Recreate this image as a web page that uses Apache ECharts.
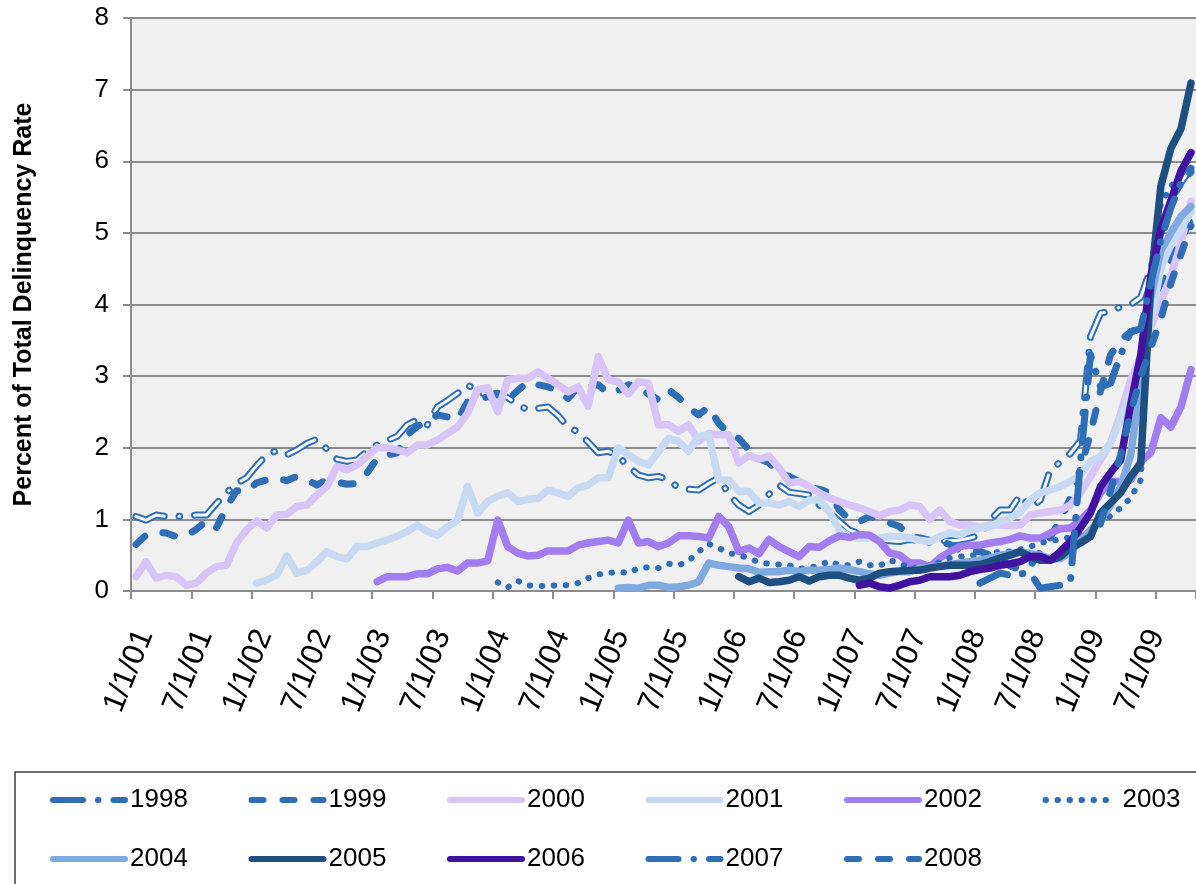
<!DOCTYPE html>
<html lang="en">
<head>
<meta charset="UTF-8">
<title>Percent of Total Delinquency Rate</title>
<script src="https://cdn.jsdelivr.net/npm/echarts@6.0.0/dist/echarts.min.js"></script>
<style>
  html, body { margin: 0; padding: 0; background: #fff; }
  #main { width: 1196px; height: 884px; }
</style>
</head>
<body>
<div id="main"></div>
<script>
// monthly points, Jan 2001 = month 0 ... Oct 2009 = month 105
var tickLabels = ['1/1/01', '7/1/01', '1/1/02', '7/1/02', '1/1/03', '7/1/03', '1/1/04', '7/1/04', '1/1/05',
    '7/1/05', '1/1/06', '7/1/06', '1/1/07', '7/1/07', '1/1/08', '7/1/08', '1/1/09', '7/1/09'];
var vintages = ['1998', '1999', '2000', '2001', '2002', '2003', '2004', '2005', '2006', '2007', '2008'];
var startMonth = [0, 0, 0, 12, 24, 36, 48, 60, 72, 84, 96];

var v1998 = [1.04, 0.99, 1.06, 1.04, 1.04, 1.05, 1.06, 1.06, 1.22, 1.37,
    1.50, 1.58, 1.75, 1.90, 1.96, 1.90, 1.97, 2.06, 2.12, 1.98,
    1.84, 1.81, 1.83, 1.95, 2.04, 2.10, 2.16, 2.32, 2.39, 2.32,
    2.57, 2.66, 2.76, 2.88, 2.78, 2.74, 2.76, 2.70, 2.60, 2.53,
    2.55, 2.57, 2.45, 2.29, 2.22, 2.08, 1.93, 1.95, 1.88, 1.74,
    1.62, 1.58, 1.60, 1.55, 1.44, 1.42, 1.41, 1.50, 1.58, 1.35,
    1.20, 1.11, 1.20, 1.35, 1.48, 1.38, 1.36, 1.34, 1.20, 1.09,
    0.97, 0.85, 0.80, 0.76, 0.71, 0.70, 0.69, 0.72, 0.70, 0.68,
    0.70, 0.70, 0.71, 0.74, 0.78, 0.99, 1.13, 1.13, 1.34, 1.17,
    1.27, 1.69, 1.80, 1.92, 2.10, 3.55, 3.88, 3.90, 3.97, 4.00,
    4.10, 4.50, 5.00, 5.45, 5.70, 5.90];
var v1999 = [0.65, 0.78, 0.82, 0.81, 0.76, 0.77, 0.86, 0.98, 0.88, 1.17,
    1.40, 1.39, 1.51, 1.55, 1.58, 1.54, 1.60, 1.55, 1.48, 1.55,
    1.52, 1.49, 1.50, 1.65, 1.85, 1.90, 1.93, 2.18, 2.30, 2.36,
    2.46, 2.43, 2.39, 2.64, 2.68, 2.71, 2.74, 2.67, 2.80, 2.92,
    2.88, 2.85, 2.80, 2.69, 2.85, 2.86, 2.88, 2.76, 2.80, 2.88,
    2.85, 2.75, 2.67, 2.81, 2.70, 2.56, 2.46, 2.57, 2.34, 2.20,
    2.13, 1.97, 1.85, 1.79, 1.65, 1.60, 1.53, 1.44, 1.42, 1.37,
    1.13, 1.00, 0.97, 1.04, 1.00, 0.95, 0.90, 0.76, 0.74, 0.71,
    0.69, 0.65, 0.57, 0.55, 0.55, 0.50, 0.45, 0.35, 0.30, 0.35,
    0.55, 0.75, 1.00, 1.30, 1.70, 2.20, 2.80, 3.30, 3.50, 3.62,
    3.65, 4.00, 4.30, 4.60, 4.90, 5.20];
var v2000 = [0.20, 0.41, 0.18, 0.22, 0.20, 0.08, 0.11, 0.25, 0.34, 0.36,
    0.67, 0.85, 0.98, 0.88, 1.06, 1.07, 1.18, 1.20, 1.34, 1.46,
    1.74, 1.69, 1.76, 1.88, 2.00, 2.00, 1.97, 1.93, 2.04, 2.04,
    2.11, 2.20, 2.29, 2.48, 2.81, 2.84, 2.50, 2.95, 2.97, 2.97,
    3.06, 2.97, 2.88, 2.78, 2.85, 2.58, 3.27, 2.95, 2.92, 2.75,
    2.92, 2.90, 2.32, 2.32, 2.23, 2.32, 2.09, 2.20, 2.18, 2.18,
    1.79, 1.89, 1.84, 1.88, 1.72, 1.51, 1.53, 1.46, 1.37, 1.30,
    1.25, 1.20, 1.16, 1.11, 1.05, 1.11, 1.13, 1.20, 1.18, 1.00,
    1.13, 0.97, 0.92, 0.92, 0.89, 0.92, 0.92, 0.91, 0.92, 1.06,
    1.09, 1.11, 1.13, 1.20, 1.37, 1.60, 1.83, 2.07, 2.48, 2.95,
    3.27, 3.69, 4.04, 4.39, 4.86, 5.44];
var v2001 = [0.11, 0.15, 0.22, 0.49, 0.25, 0.29, 0.41, 0.55,
    0.48, 0.45, 0.62, 0.62, 0.67, 0.71, 0.77, 0.83, 0.92, 0.83,
    0.78, 0.90, 0.99, 1.46, 1.09, 1.25, 1.32, 1.37, 1.25, 1.28,
    1.29, 1.41, 1.37, 1.32, 1.44, 1.48, 1.58, 1.58, 2.00, 1.90,
    1.81, 1.76, 1.95, 2.13, 2.09, 1.95, 2.16, 2.18, 1.55, 1.55,
    1.39, 1.39, 1.23, 1.23, 1.20, 1.25, 1.18, 1.27, 1.27, 1.11,
    0.85, 0.76, 0.74, 0.74, 0.74, 0.76, 0.76, 0.74, 0.71, 0.69,
    0.76, 0.81, 0.78, 0.85, 0.88, 0.90, 0.97, 1.02, 1.10, 1.27,
    1.37, 1.41, 1.46, 1.53, 1.62, 1.81, 1.88, 2.07, 2.40, 2.75,
    2.95, 3.80, 4.50, 4.85, 5.05, 5.30];
var v2002 = [0.13, 0.20, 0.20, 0.20, 0.24, 0.24,
    0.31, 0.33, 0.28, 0.39, 0.39, 0.42, 0.99, 0.62, 0.53, 0.49,
    0.50, 0.56, 0.56, 0.56, 0.64, 0.67, 0.69, 0.71, 0.67, 0.99,
    0.67, 0.69, 0.62, 0.67, 0.77, 0.77, 0.76, 0.74, 1.04, 0.90,
    0.55, 0.60, 0.52, 0.72, 0.62, 0.55, 0.48, 0.62, 0.61, 0.70,
    0.77, 0.75, 0.79, 0.78, 0.69, 0.53, 0.50, 0.39, 0.39, 0.34,
    0.46, 0.55, 0.62, 0.64, 0.64, 0.67, 0.69, 0.72, 0.77, 0.74,
    0.74, 0.81, 0.87, 0.88, 0.99, 1.13, 1.37, 1.53, 1.53, 1.55,
    1.81, 1.93, 2.42, 2.29, 2.57, 3.09];
var v2003 = [0.12, 0.05, 0.14, 0.08,
    0.07, 0.07, 0.08, 0.08, 0.11, 0.18, 0.23, 0.25, 0.27, 0.25,
    0.32, 0.33, 0.32, 0.38, 0.36, 0.42, 0.55, 0.66, 0.60, 0.53,
    0.50, 0.46, 0.40, 0.38, 0.37, 0.36, 0.31, 0.33, 0.35, 0.42,
    0.36, 0.36, 0.41, 0.36, 0.35, 0.43, 0.39, 0.32, 0.32, 0.36,
    0.40, 0.46, 0.48, 0.50, 0.50, 0.52, 0.55, 0.55, 0.58, 0.62,
    0.67, 0.70, 0.72, 0.75, 0.80, 0.85, 0.93, 1.05, 1.16, 1.30,
    1.55, 4.50, 5.40, 5.65, 5.80, 5.90];
var v2004 = [0.04, 0.05,
    0.04, 0.08, 0.08, 0.05, 0.06, 0.08, 0.13, 0.39, 0.36, 0.34,
    0.32, 0.31, 0.26, 0.27, 0.27, 0.29, 0.27, 0.29, 0.29, 0.30,
    0.32, 0.30, 0.27, 0.24, 0.22, 0.25, 0.27, 0.27, 0.32, 0.34,
    0.35, 0.37, 0.39, 0.41, 0.43, 0.46, 0.50, 0.52, 0.55, 0.52,
    0.50, 0.45, 0.45, 0.55, 0.70, 0.85, 1.00, 1.20, 1.45, 1.90,
    2.90, 4.10, 4.75, 5.00, 5.23, 5.37];
var v2005 = [0.20, 0.13, 0.18, 0.12, 0.13, 0.15, 0.20, 0.14, 0.20, 0.22,
    0.22, 0.18, 0.15, 0.18, 0.25, 0.27, 0.28, 0.29, 0.29, 0.32,
    0.34, 0.36, 0.36, 0.36, 0.37, 0.41, 0.46, 0.50, 0.55, 0.48,
    0.43, 0.43, 0.48, 0.60, 0.67, 0.76, 1.09, 1.23, 1.37, 1.60,
    1.78, 4.30, 5.65, 6.18, 6.45, 7.09];
var v2006 = [0.08, 0.11, 0.06, 0.04, 0.08, 0.13, 0.15, 0.20,
    0.20, 0.20, 0.22, 0.27, 0.30, 0.32, 0.36, 0.38, 0.41, 0.48,
    0.48, 0.43, 0.55, 0.69, 0.88, 1.09, 1.46, 1.65, 1.83, 2.60,
    3.30, 4.40, 5.05, 5.45, 5.86, 6.12];
var v2007 = [0.11, 0.18, 0.25, 0.22, 0.24, 0.25,
    0.04, 0.06, 0.08, 0.13, 1.80, 3.30, 2.85, 2.90, 3.30, 3.62,
    3.66, 4.30, 4.90, 5.35, 5.70, 5.85];
var v2008 = [0.95, 1.40, 1.90, 2.50, 3.00, 3.40, 3.80, 4.30, 4.70, 5.10];

var values = [v1998, v1999, v2000, v2001, v2002, v2003, v2004, v2005, v2006, v2007, v2008];

// look of each vintage line
var FONT = "'Liberation Sans', Arial, sans-serif";
var blue = '#2E6EB6';
var dashDot = [30, 15, 0.5, 15];
var dash = [12, 19];
var dots = [0.5, 11.5];
var looks = {
    '1998': { color: blue, type: dashDot, width: 7 },
    '1999': { color: blue, type: dash, width: 7 },
    '2000': { color: '#D7C5F7', type: 'solid', width: 7.5 },
    '2001': { color: '#C7DAF2', type: 'solid', width: 7.5 },
    '2002': { color: '#A27DF0', type: 'solid', width: 7.5 },
    '2003': { color: blue, type: dots, width: 6 },
    '2004': { color: '#7EAAE0', type: 'solid', width: 7.5 },
    '2005': { color: '#1F4E80', type: 'solid', width: 7.5 },
    '2006': { color: '#41119F', type: 'solid', width: 7.5 },
    '2007': { color: blue, type: dashDot, width: 7 },
    '2008': { color: blue, type: dash, width: 7 }
};

function pts(k) {
    // points sit mid-month, between the tick marks
    return values[k].map(function (v, i) { return [startMonth[k] + i + 0.5, v]; });
}

var series = [];
vintages.forEach(function (name, k) {
    var lk = looks[name];
    series.push({
        name: name,
        type: 'line',
        data: pts(k),
        symbol: 'none',
        lineStyle: { color: lk.color, width: lk.width, type: lk.type, cap: 'round', join: 'round' },
        itemStyle: { color: lk.color },
        emphasis: { disabled: true }
    });
    if (name === '1998') {
        // thin pale core gives the outlined look of this line
        series.push({
            name: '1998 core',
            type: 'line',
            data: pts(k),
            symbol: 'none',
            silent: true,
            lineStyle: { color: '#FAFAFA', width: 3, type: lk.type, cap: 'round', join: 'round' },
            emphasis: { disabled: true }
        });
    }
});

var legends = vintages.map(function (name, k) {
    return {
        data: [name],
        left: 50 + (k % 6) * 198.5,
        top: k < 6 ? 787 : 846,
        padding: 0,
        itemWidth: 72,
        itemHeight: 14,
        selectedMode: false,
        itemStyle: { opacity: 0 },
        lineStyle: { width: 6, cap: 'round' },
        textStyle: { fontSize: 26, color: '#000', fontFamily: FONT }
    };
});

var myChart = echarts.init(document.getElementById('main'));
myChart.setOption({
    animation: false,
    backgroundColor: '#fff',
    grid: [
        { left: 131, top: 18, width: 1066, height: 573, show: true, backgroundColor: '#F0F0F0', borderWidth: 0 },
        // carries only the date labels, nudged right like the source
        { left: 145, top: 18, width: 1066, height: 573, show: false }
    ],
    legend: legends,
    graphic: [{
        type: 'rect',
        shape: { x: 15, y: 772, width: 1300, height: 200 },
        style: { fill: 'none', stroke: '#3C3C3C', lineWidth: 1.5 },
        silent: true
    }],
    xAxis: [{
        type: 'value',
        gridIndex: 0,
        min: 0,
        max: 106,
        interval: 6,
        axisLine: { lineStyle: { color: '#8C8C8C', width: 2 } },
        axisTick: { show: true, length: 8, lineStyle: { color: '#8C8C8C', width: 2 } },
        splitLine: { show: false },
        axisLabel: { show: false }
    }, {
        type: 'value',
        gridIndex: 1,
        min: 0,
        max: 106,
        interval: 6,
        axisLine: { show: false },
        axisTick: { show: false },
        splitLine: { show: false },
        axisLabel: {
            rotate: 68,
            margin: 40,
            padding: [56, 0, 0, 0],
            fontSize: 31,
            color: '#000',
            fontFamily: FONT,
            showMaxLabel: false,
            formatter: function (v) { return v % 6 === 0 ? (tickLabels[v / 6] || '') : ''; }
        }
    }],
    yAxis: [{
        type: 'value',
        gridIndex: 0,
        min: 0,
        max: 8,
        interval: 1,
        name: 'Percent of Total Delinquency Rate',
        nameLocation: 'middle',
        nameGap: 94,
        nameTextStyle: { fontSize: 25, fontWeight: 'bold', color: '#000', fontFamily: FONT },
        axisLine: { show: true, lineStyle: { color: '#8C8C8C', width: 2 } },
        axisTick: { show: true, length: 8, lineStyle: { color: '#8C8C8C', width: 2 } },
        splitLine: { lineStyle: { color: '#8C8C8C', width: 2 } },
        axisLabel: { fontSize: 26, color: '#000', margin: 22, fontFamily: FONT }
    }, {
        type: 'value',
        gridIndex: 1,
        min: 0,
        max: 8,
        show: false
    }],
    series: series
});
</script>
</body>
</html>
